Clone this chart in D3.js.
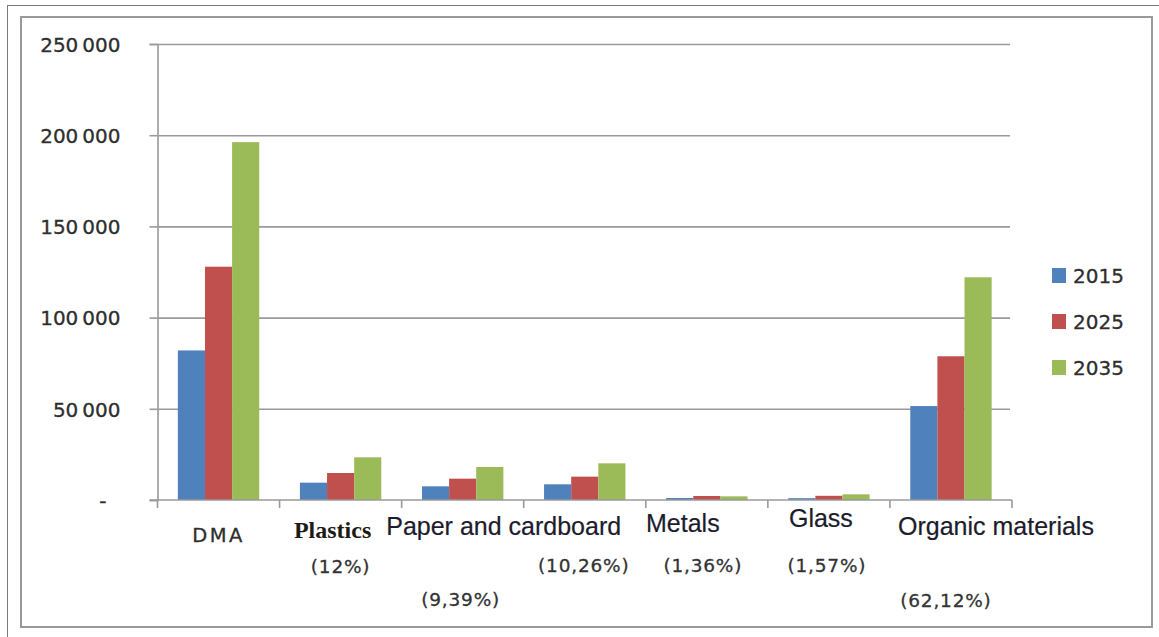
<!DOCTYPE html>
<html>
<head>
<meta charset="utf-8">
<script src="https://cdn.jsdelivr.net/npm/d3@7"></script>
<style>
  html, body { margin: 0; padding: 0; background: #fff; }
  svg { display: block; }
</style>
</head>
<body>
<svg id="chart" width="1159" height="637"></svg>
<script>
// Waste generation by category (tonnes), with each material's share
const categories = ["DMA", "Plastics", "Paper and cardboard", "", "Metals", "Glass", "Organic materials"];
const shares = ["", "(12%)", "(9,39%)", "(10,26%)", "(1,36%)", "(1,57%)", "(62,12%)"];
const seriesNames = ["2015", "2025", "2035"];
const values2015 = [82000, 9500, 7500, 8600, 1100, 1000, 51500];
const values2025 = [127900, 14800, 11700, 12800, 2200, 2300, 78800];
const values2035 = [196200, 23400, 18100, 20100, 2000, 3100, 122100];
const yTicks = [0, 50000, 100000, 150000, 200000, 250000];

const seriesValues = [values2015, values2025, values2035];
const colors = ["#4F81BD", "#C0504D", "#9BBB59"];

// label placement tweaks (horizontal nudge from band centre, baseline y)
const nameNudge = [0, -8, 41, 0, -24, -8, 45];
const nameBaseline = [542, 538, 535, 535, 532, 527, 535];
const shareNudge = [0, 0, -2, -1, -4, -2, -5];
const shareBaseline = [572, 573, 606, 572, 572, 572, 607];

const svg = d3.select("#chart");

// outer frame and chart border
svg.append("line").attr("x1", 7).attr("x2", 1159).attr("y1", 5.5).attr("y2", 5.5)
  .attr("stroke", "#7a7a7a").attr("stroke-width", 1);
svg.append("line").attr("x1", 7.5).attr("x2", 7.5).attr("y1", 5).attr("y2", 637)
  .attr("stroke", "#7a7a7a").attr("stroke-width", 1);
svg.append("rect").attr("x", 21).attr("y", 17).attr("width", 1131).attr("height", 610)
  .attr("fill", "none").attr("stroke", "#999").attr("stroke-width", 2);

const plot = { left: 157.5, right: 1012, top: 44, bottom: 500 };

const y = d3.scaleLinear().domain([0, 250000]).range([plot.bottom, plot.top]);
const x0 = d3.scaleBand().domain(d3.range(categories.length))
  .range([plot.left, plot.right]).paddingInner(0).paddingOuter(0);
const bw = x0.bandwidth() / 4.5;
const x1 = d3.scaleBand().domain(seriesNames)
  .range([0.75 * bw, 3.75 * bw]).paddingInner(0).paddingOuter(0);

// horizontal gridlines
const grid = svg.append("g")
  .attr("transform", `translate(${plot.left},0)`)
  .call(d3.axisLeft(y).tickValues(yTicks.slice(1)).tickSize(-(1010 - plot.left)).tickFormat(""));
grid.select(".domain").remove();
grid.selectAll(".tick line").attr("stroke", "#9a9a9a").attr("stroke-width", 1.6);

// value axis
const fmt = v => v === 0 ? "-" : d3.format(",")(v).replace(/,/g, "\u2009");
const yAxis = svg.append("g")
  .attr("transform", `translate(${plot.left},0)`)
  .call(d3.axisLeft(y).tickValues(yTicks).tickSize(8).tickPadding(29).tickFormat(fmt));
yAxis.select(".domain").attr("stroke", "#9a9a9a").attr("stroke-width", 1.6);
yAxis.selectAll(".tick line").attr("stroke", "#9a9a9a").attr("stroke-width", 1.6);
yAxis.selectAll(".tick text")
  .attr("font-family", "DejaVu Sans").attr("font-size", 20).attr("fill", "#2e2e2e")
  .attr("stroke", "#2e2e2e").attr("stroke-width", 0.3)
  .attr("dy", "0.36em")
  .attr("dx", d => d === 0 ? -14 : 0);

// bars
const groups = svg.append("g").selectAll("g")
  .data(categories.map((c, i) => i))
  .join("g")
  .attr("transform", i => `translate(${x0(i)},0)`);

groups.selectAll("rect")
  .data(i => seriesNames.map((s, k) => ({ s, k, v: seriesValues[k][i] })))
  .join("rect")
  .attr("x", d => x1(d.s))
  .attr("width", x1.bandwidth())
  .attr("y", d => y(d.v))
  .attr("height", d => y(0) - y(d.v))
  .attr("fill", d => colors[d.k]);

// category axis
const xAxis = svg.append("g")
  .attr("transform", `translate(0,${plot.bottom})`);
xAxis.append("line").attr("x1", 150).attr("x2", plot.right).attr("y1", 0).attr("y2", 0)
  .attr("stroke", "#9a9a9a").attr("stroke-width", 1.6);
const edges = d3.range(categories.length).map(i => x0(i)).concat([plot.right]);
xAxis.selectAll("line.tk").data(edges).join("line").attr("class", "tk")
  .attr("x1", d => d).attr("x2", d => d).attr("y1", 0).attr("y2", 8)
  .attr("stroke", "#9a9a9a").attr("stroke-width", 1.6);

// category names
const nameFont = (i) => {
  if (i === 0) return { family: "DejaVu Sans", size: 19.5, weight: "normal", fill: "#2e2e2e", spacing: 2.5, stroke: 0.3 };
  if (i === 1) return { family: "Liberation Serif", size: 24, weight: "bold", fill: "#1e1a14", spacing: 0, stroke: 0 };
  return { family: "Liberation Sans", size: 25, weight: "normal", fill: "#1c1c2c", spacing: 0, stroke: 0.2 };
};
svg.append("g").selectAll("text")
  .data(categories.map((c, i) => ({ c, i })).filter(d => d.c !== ""))
  .join("text")
  .attr("x", d => x0(d.i) + x0.bandwidth() / 2 + nameNudge[d.i])
  .attr("y", d => nameBaseline[d.i])
  .attr("text-anchor", "middle")
  .attr("font-family", d => nameFont(d.i).family)
  .attr("font-size", d => nameFont(d.i).size)
  .attr("font-weight", d => nameFont(d.i).weight)
  .attr("letter-spacing", d => nameFont(d.i).spacing)
  .attr("fill", d => nameFont(d.i).fill)
  .attr("stroke", d => nameFont(d.i).fill)
  .attr("stroke-width", d => nameFont(d.i).stroke)
  .text(d => d.c);

// share labels
svg.append("g").selectAll("text")
  .data(shares.map((s, i) => ({ s, i })).filter(d => d.s !== ""))
  .join("text")
  .attr("x", d => x0(d.i) + x0.bandwidth() / 2 + shareNudge[d.i])
  .attr("y", d => shareBaseline[d.i])
  .attr("text-anchor", "middle")
  .attr("font-family", "DejaVu Sans")
  .attr("font-size", 18.5)
  .attr("letter-spacing", 0.8)
  .attr("fill", "#333")
  .attr("stroke", "#333").attr("stroke-width", 0.3)
  .text(d => d.s);

// legend
const legend = svg.append("g").selectAll("g")
  .data(seriesNames)
  .join("g")
  .attr("transform", (d, k) => `translate(1052,${268 + k * 46})`);
legend.append("rect").attr("width", 14).attr("height", 15)
  .attr("fill", (d, k) => colors[k]);
legend.append("text").attr("x", 21).attr("y", 15)
  .attr("font-family", "DejaVu Sans").attr("font-size", 20).attr("fill", "#2e2e2e")
  .attr("stroke", "#2e2e2e").attr("stroke-width", 0.3)
  .text(d => d);
</script>
</body>
</html>
